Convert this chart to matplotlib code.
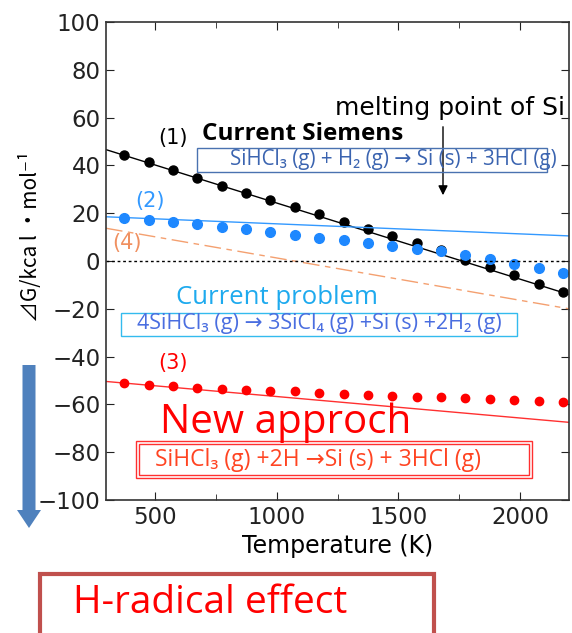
import matplotlib
matplotlib.use('Agg')
import matplotlib.pyplot as plt
from matplotlib.patches import Rectangle, FancyArrow
from matplotlib.ticker import MultipleLocator
import numpy as np

# データ
temps = [375, 475, 575, 675, 775, 875, 975, 1075, 1175, 1275,
         1375, 1475, 1575, 1675, 1775, 1875, 1975, 2075, 2175]
g_siemens = [44.5, 41.3, 38.1, 34.7, 31.5, 28.3, 25.5, 22.5, 19.6, 16.5,
             13.3, 10.5, 7.7, 4.6, 0.5, -2.6, -6.0, -9.8, -12.8]
g_problem = [17.9, 17.2, 16.4, 15.4, 14.3, 13.2, 12.1, 10.9, 9.8, 8.7,
             7.4, 6.3, 5.2, 4.2, 2.5, 0.7, -1.1, -3.1, -4.9]
g_radical = [-51.1, -51.8, -52.5, -53.2, -53.6, -54.1, -54.3, -54.6, -55.3, -55.7,
             -56.0, -56.3, -56.7, -57.1, -57.5, -57.9, -58.3, -58.7, -59.2]

line_t = [300, 2200]
line_siemens = [46.6, -14.0]
line_problem = [18.5, 10.5]
line_radical = [-50.4, -67.5]
line_case4 = [13.7, -20.0]

W, H = 572, 633


def fx(x):
    return x / W


def fy(y):
    return 1 - y / H


fig = plt.figure(figsize=(W / 100, H / 100), dpi=100)
ax = fig.add_axes([fx(106), fy(500), fx(569) - fx(106), fy(22) - fy(500)])

ax.plot(line_t, line_siemens, color='black', lw=1)
ax.plot(temps, g_siemens, 'o', color='black', ms=6.5)
ax.plot(line_t, line_problem, color='#3399ff', lw=1)
ax.plot(temps, g_problem, 'o', color='#1e88ff', ms=7)
ax.plot(line_t, line_radical, color='#ff3030', lw=1)
ax.plot(temps, g_radical, 'o', color='#ff0000', ms=6)
ax.plot(line_t, line_case4, color='#f4a070', lw=1, dashes=(12, 4, 4, 4))
ax.axhline(0, color='black', lw=1, ls=(0, (2, 2)))

ax.set_xlim(300, 2200)
ax.set_ylim(-100, 100)
ax.xaxis.set_major_locator(MultipleLocator(500))
ax.xaxis.set_minor_locator(MultipleLocator(250))
ax.yaxis.set_major_locator(MultipleLocator(20))
ax.tick_params(which='both', direction='in', top=True, right=True,
               labelsize=16.5, colors='#222222')
ax.tick_params(which='major', length=6, pad=4)
ax.tick_params(which='minor', length=4)
for sp in ax.spines.values():
    sp.set_color('#333333')
    sp.set_linewidth(1.2)

ax.set_xlabel('Temperature (K)', fontsize=17, labelpad=4)

# 縦軸ラベル
fig.text(fx(31), fy(237), '⊿G/kca l ・mol⁻¹', rotation=90, fontsize=15,
         ha='center', va='center', family=['Noto Sans CJK JP', 'DejaVu Sans'])

# 注釈
fig.text(fx(173), fy(138), '(1)', fontsize=15, ha='center', va='center')
fig.text(fx(202), fy(134), 'Current Siemens', fontsize=17.5, fontweight='bold',
         ha='left', va='center', family='Open Sans')
fig.patches.append(Rectangle((fx(197), fy(172)), fx(547) - fx(197), fy(148) - fy(172),
                             transform=fig.transFigure, fill=False,
                             edgecolor='#4a72b0', lw=1))
fig.text(fx(230), fy(160), 'SiHCl₃ (g) + H₂ (g) → Si (s) + 3HCl (g)', fontsize=14.8,
         color='#3b64b0', ha='left', va='center', family=['Open Sans', 'DejaVu Sans'])

fig.text(fx(335), fy(108), 'melting point of Si', fontsize=18, ha='left', va='center')
ax.annotate('', xy=(fx(443), fy(198)), xytext=(fx(443), fy(124)),
            xycoords='figure fraction', textcoords='figure fraction',
            arrowprops=dict(arrowstyle='-|>', color='black', lw=1, mutation_scale=14))

fig.text(fx(150), fy(201), '(2)', fontsize=15, color='#3399ff', ha='center', va='center')
fig.text(fx(127), fy(243), '(4)', fontsize=15, color='#f09060', ha='center', va='center')

fig.text(fx(277), fy(298), 'Current problem', fontsize=18.5, color='#1eaaee',
         ha='center', va='center', family='Open Sans')
fig.patches.append(Rectangle((fx(121), fy(336)), fx(517) - fx(121), fy(313) - fy(336),
                             transform=fig.transFigure, fill=False,
                             edgecolor='#33bbee', lw=1))
fig.text(fx(137), fy(324), '4SiHCl₃ (g) → 3SiCl₄ (g) +Si (s) +2H₂ (g)', fontsize=15.5,
         color='#4a6ee0', ha='left', va='center', family=['Open Sans', 'DejaVu Sans'])

fig.text(fx(173), fy(363), '(3)', fontsize=15, color='#ff0000', ha='center', va='center')
fig.text(fx(286), fy(423), 'New approch', fontsize=29, color='#ff0000',
         ha='center', va='center', family='Open Sans')
fig.patches.append(Rectangle((fx(136), fy(478)), fx(532) - fx(136), fy(441) - fy(478),
                             transform=fig.transFigure, fill=False,
                             edgecolor='#ff3030', lw=1))
fig.patches.append(Rectangle((fx(139), fy(475)), fx(529) - fx(139), fy(444) - fy(475),
                             transform=fig.transFigure, fill=False,
                             edgecolor='#ff3030', lw=1))
fig.text(fx(155), fy(460), 'SiHCl₃ (g) +2H →Si (s) + 3HCl (g)', fontsize=16.5,
         color='#ff4422', ha='left', va='center', family=['Open Sans', 'DejaVu Sans'])

# 青い下向き矢印
fig.patches.append(FancyArrow(fx(29), fy(365), 0, fy(528) - fy(365),
                              width=fx(13), head_width=fx(24), head_length=(fy(510) - fy(528)),
                              length_includes_head=True, transform=fig.transFigure,
                              color='#4f81bd', lw=0))

# 下のボックス
fig.patches.append(Rectangle((fx(40), fy(645)), fx(434) - fx(40), fy(574) - fy(645),
                             transform=fig.transFigure, fill=False,
                             edgecolor='#c0504d', lw=3))
fig.text(fx(73), fy(603), 'H-radical effect', fontsize=28, color='#ff0000',
         ha='left', va='center', family='Open Sans')

fig.savefig('out.png', dpi=100)
